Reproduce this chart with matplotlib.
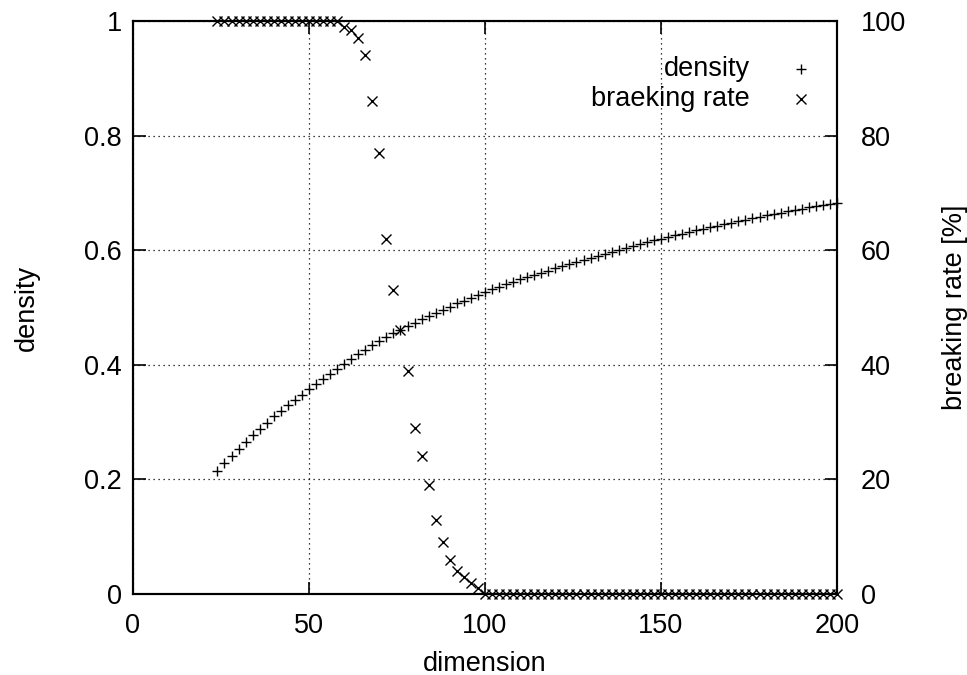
import matplotlib
matplotlib.use("Agg")
import matplotlib.pyplot as plt

plt.rcParams['font.family'] = ['Liberation Sans', 'DejaVu Sans']

# dimension values (every 2 from 24 to 200)
dimension = list(range(24, 201, 2))

density = [
    0.215, 0.228, 0.241, 0.253, 0.266, 0.277, 0.288, 0.299, 0.310, 0.320,
    0.329, 0.339, 0.348, 0.357, 0.366, 0.375, 0.384, 0.393, 0.402, 0.410,
    0.418, 0.426, 0.434, 0.441, 0.448, 0.455, 0.461, 0.467, 0.473, 0.479,
    0.485, 0.491, 0.496, 0.501, 0.507, 0.512, 0.517, 0.522, 0.527, 0.532,
    0.536, 0.541, 0.545, 0.549, 0.553, 0.557, 0.561, 0.564, 0.568, 0.572,
    0.576, 0.579, 0.583, 0.587, 0.590, 0.594, 0.597, 0.601, 0.604, 0.607,
    0.611, 0.614, 0.617, 0.620, 0.623, 0.626, 0.629, 0.632, 0.635, 0.637,
    0.640, 0.643, 0.645, 0.648, 0.651, 0.653, 0.656, 0.658, 0.661, 0.663,
    0.665, 0.668, 0.670, 0.672, 0.675, 0.677, 0.679, 0.681, 0.683,
]

breaking = [100] * 18 + [
    99, 98.5, 97, 94, 86, 77, 62, 53, 46, 39, 29, 24, 19, 13, 9, 6, 4, 3, 2, 1,
] + [0] * 51

x_ticks = [0, 50, 100, 150, 200]
y_ticks = [0, 0.2, 0.4, 0.6, 0.8, 1]
y_labels = ["0", "0.2", "0.4", "0.6", "0.8", "1"]
y2_ticks = [0, 20, 40, 60, 80, 100]

fs = 19.5

fig = plt.figure(figsize=(9.67, 6.75), dpi=100)
ax = fig.add_axes([0.1375, 0.12, 0.728, 0.849])
ax2 = ax.twinx()

ax.plot(dimension, density, linestyle="none", marker="+", color="black",
        markersize=7.5, markeredgewidth=1.0, clip_on=False, zorder=3)
ax2.plot(dimension, breaking, linestyle="none", marker="x", color="black",
         markersize=7, markeredgewidth=1.0, clip_on=False, zorder=3)

ax.set_xlim(0, 200)
ax.set_ylim(0, 1)
ax2.set_ylim(0, 100)

ax.set_xticks(x_ticks)
ax.set_xticklabels([str(v) for v in x_ticks], fontsize=fs)
ax.set_yticks(y_ticks)
ax.set_yticklabels(y_labels, fontsize=fs)
ax2.set_yticks(y2_ticks)
ax2.set_yticklabels([str(v) for v in y2_ticks], fontsize=fs)

ax.tick_params(axis="x", direction="in", length=9, width=1.2, top=True, pad=14)
ax.tick_params(axis="y", direction="in", length=9, width=1.2, pad=8)
ax2.tick_params(axis="y", direction="in", length=9, width=1.2, pad=17)

ax.grid(True, linestyle=(0, (1, 3)), color="black", linewidth=0.9)

for a in (ax, ax2):
    for s in a.spines.values():
        s.set_linewidth(1.5)

ax.set_xlabel("dimension", fontsize=fs, labelpad=8)
ax.set_ylabel("density", fontsize=fs, labelpad=32)
ax2.set_ylabel("breaking rate [%]", fontsize=fs, labelpad=26)

# legend, gnuplot style (right-aligned text, symbol on the right)
ax.text(0.876, 0.916, "density", transform=ax.transAxes, ha="right",
        va="center", fontsize=fs)
ax.plot([0.949], [0.916], transform=ax.transAxes, marker="+", color="black",
        markersize=7.5, markeredgewidth=1.0, linestyle="none", clip_on=False)
ax.text(0.876, 0.864, "braeking rate", transform=ax.transAxes, ha="right",
        va="center", fontsize=fs)
ax.plot([0.949], [0.864], transform=ax.transAxes, marker="x", color="black",
        markersize=7, markeredgewidth=1.0, linestyle="none", clip_on=False)

fig.savefig("out.png", dpi=100)
